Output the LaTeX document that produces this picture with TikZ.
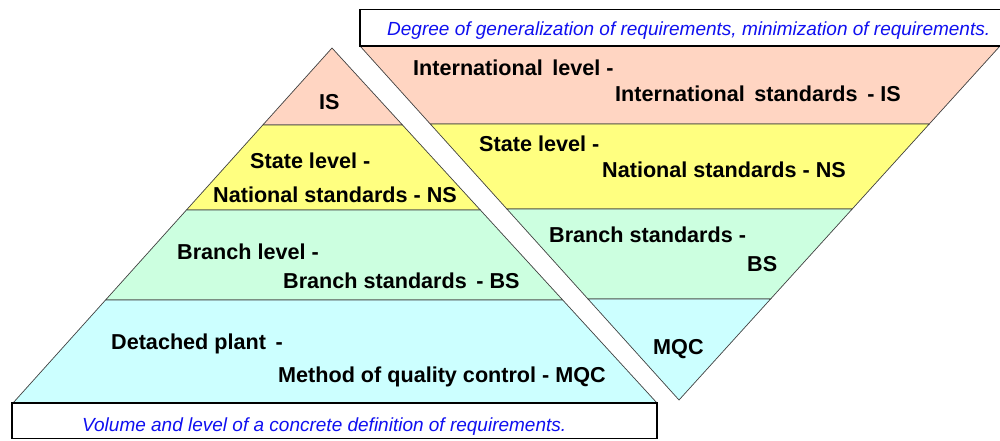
\documentclass[tikz,border=0pt]{standalone}
\usepackage{fontspec}
\setmainfont{Liberation Sans}
\usetikzlibrary{calc}
\definecolor{peach}{HTML}{FFD5C2}
\definecolor{lyellow}{HTML}{FFFF80}
\definecolor{mint}{HTML}{CCFFE0}
\definecolor{lcyan}{HTML}{CCFFFF}
\definecolor{capblue}{HTML}{1010F0}
\definecolor{edge}{HTML}{404040}
\begin{document}
\begin{tikzpicture}[x=1pt,y=-1pt,
  lbl/.style={font=\fontsize{21.6}{25}\selectfont\bfseries, inner sep=0, anchor=base west},
  captext/.style={font=\fontsize{19}{23}\selectfont\itshape, text=capblue, inner sep=0, anchor=base west},
  band/.style={draw=edge, line width=0.7pt, line join=miter},
  frame/.style={draw=black, line width=1.1pt, fill=white}]
\useasboundingbox (0,0) rectangle (1000,440);
% ---------- left pyramid ----------
\coordinate (A)  at (332,48);
\coordinate (BL) at (13,403);
\coordinate (BR) at (657,403);
\coordinate (l1) at ($(A)!0.2169!(BL)$);
\coordinate (r1) at ($(A)!0.2169!(BR)$);
\coordinate (l2) at ($(A)!0.4563!(BL)$);
\coordinate (r2) at ($(A)!0.4563!(BR)$);
\coordinate (l3) at ($(A)!0.7099!(BL)$);
\coordinate (r3) at ($(A)!0.7099!(BR)$);
\path[band, fill=peach]   (A) -- (r1) -- (l1) -- cycle;
\path[band, fill=lyellow] (l1) -- (r1) -- (r2) -- (l2) -- cycle;
\path[band, fill=mint]    (l2) -- (r2) -- (r3) -- (l3) -- cycle;
\path[band, fill=lcyan]   (l3) -- (r3) -- (BR) -- (BL) -- cycle;
% ---------- right inverted pyramid ----------
\coordinate (TL) at (360,46);
\coordinate (TR) at (1000,46);
\coordinate (B)  at (679,400);
\coordinate (p1) at ($(TL)!0.2203!(B)$);
\coordinate (q1) at ($(TR)!0.2203!(B)$);
\coordinate (p2) at ($(TL)!0.4605!(B)$);
\coordinate (q2) at ($(TR)!0.4605!(B)$);
\coordinate (p3) at ($(TL)!0.7147!(B)$);
\coordinate (q3) at ($(TR)!0.7147!(B)$);
\path[band, fill=peach]   (TL) -- (TR) -- (q1) -- (p1) -- cycle;
\path[band, fill=lyellow] (p1) -- (q1) -- (q2) -- (p2) -- cycle;
\path[band, fill=mint]    (p2) -- (q2) -- (q3) -- (p3) -- cycle;
\path[band, fill=lcyan]   (p3) -- (q3) -- (B) -- cycle;
% ---------- caption boxes ----------
\path[frame] (360,9.5) rectangle (1010,46);
\path[frame] (12,403) rectangle (657,438.5);
\node[captext] (topcap) at (387,35) {Degree of generalization of requirements, minimization of requirements.};
\node[captext] (botcap) at (82,431) {Volume and level of a concrete definition of requirements.};
% ---------- left labels ----------
\node[lbl] (lis)  at (319,109) {IS};
\node[lbl] (lst)  at (250,168) {State level -};
\node[lbl] (lns)  at (213,202) {National standards - NS};
\node[lbl] (lbr)  at (177,259) {Branch level -};
\node[lbl] (lbs)  at (283,288) {Branch standards\, - BS};
\node[lbl] (ldp)  at (111,349) {Detached plant\, -};
\node[lbl] (lmq)  at (278,382) {Method of quality control - MQC};
% ---------- right labels ----------
\node[lbl] (ril)  at (413,75)  {International\, level -};
\node[lbl] (ris)  at (615,101) {International\, standards\, - IS};
\node[lbl] (rst)  at (479,151) {State level -};
\node[lbl] (rns)  at (602,177) {National standards - NS};
\node[lbl] (rbs)  at (549,242) {Branch standards -};
\node[lbl] (rbs2) at (747,271) {BS};
\node[lbl] (rmq)  at (653,354) {MQC};
\end{tikzpicture}
\end{document}
